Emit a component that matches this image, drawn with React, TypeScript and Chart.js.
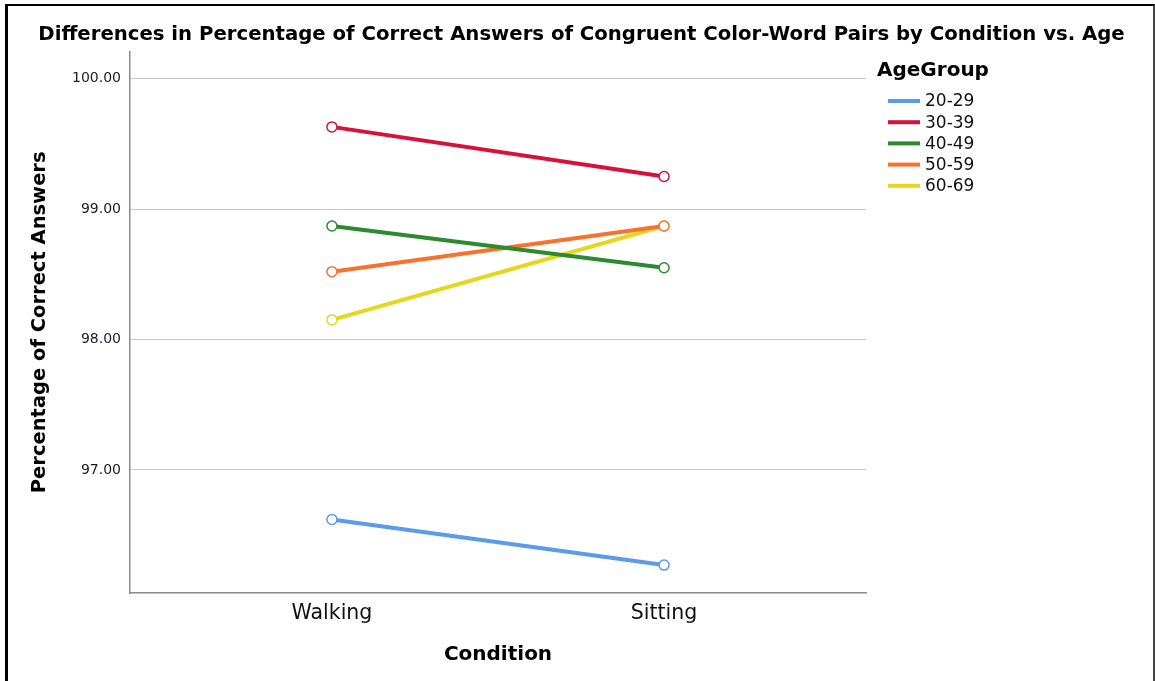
import React, { useEffect, useRef } from 'react';
import { Chart, registerables } from 'chart.js';

Chart.register(...registerables);

const chartTitle = 'Differences in Percentage of Correct Answers of Congruent Color-Word Pairs by Condition vs. Age';
const xAxisTitle = 'Condition';
const yAxisTitle = 'Percentage of Correct Answers';
const legendTitle = 'AgeGroup';

const categories = ['Walking', 'Sitting'];
const ageGroups = ['20-29', '30-39', '40-49', '50-59', '60-69'];
const values2029 = [96.62, 96.27];
const values3039 = [99.63, 99.25];
const values4049 = [98.87, 98.55];
const values5059 = [98.52, 98.87];
const values6069 = [98.15, 98.87];
const yTicks = [97, 98, 99, 100];
const seriesColors = ['#5b9be8', '#d8113c', '#2e8a2e', '#f8722f', '#e3d81c'];

const FONT = '"DejaVu Sans", sans-serif';

const legendPlugin = {
  id: 'ageLegend',
  afterDraw(chart: any) {
    const ctx = chart.ctx;
    const x0 = chart.chartArea.right + 11;
    ctx.save();
    ctx.fillStyle = '#000';
    ctx.textBaseline = 'middle';
    ctx.textAlign = 'left';
    ctx.font = `bold 20px ${FONT}`;
    ctx.fillText(legendTitle, x0, 71);
    chart.data.datasets.forEach((ds: any, i: number) => {
      const y = 101 + i * 21.2;
      ctx.strokeStyle = ds.borderColor;
      ctx.lineWidth = 4;
      ctx.beginPath();
      ctx.moveTo(x0 + 11, y);
      ctx.lineTo(x0 + 43, y);
      ctx.stroke();
      ctx.fillStyle = '#111';
      ctx.font = `17px ${FONT}`;
      ctx.fillText(ds.label, x0 + 48, y + 1);
    });
    ctx.restore();
  },
};

export default function App() {
  const ref = useRef<HTMLCanvasElement>(null);

  useEffect(() => {
    if (!ref.current) return;
    const series = [values2029, values3039, values4049, values5059, values6069];
    const chart = new Chart(ref.current, {
      type: 'line',
      data: {
        datasets: ageGroups.map((g, i) => ({
          label: g,
          data: series[i].map((v, j) => ({ x: j, y: v })),
          borderColor: seriesColors[i],
          backgroundColor: seriesColors[i],
          borderWidth: 4,
          pointRadius: 5,
          pointBorderWidth: 1.5,
          pointBackgroundColor: '#ffffff',
          pointBorderColor: seriesColors[i],
          fill: false,
        })),
      },
      options: {
        responsive: false,
        animation: false,
        layout: { padding: { left: 8, right: 0, top: 0, bottom: 0 } },
        plugins: {
          legend: { display: false },
          tooltip: { enabled: false },
          title: {
            display: true,
            text: chartTitle,
            color: '#000',
            font: { family: FONT, size: 19.7, weight: 'bold' },
            padding: { top: 23, bottom: 5 },
          },
        },
        scales: {
          x: {
            type: 'linear',
            min: -0.608,
            max: 1.608,
            afterBuildTicks: (s: any) => {
              s.ticks = categories.map((_, i) => ({ value: i }));
            },
            afterFit: (s: any) => {
              s.height = 88;
            },
            grid: { display: false, drawTicks: false },
            border: { display: true, color: '#8a8a8a', width: 1.5 },
            ticks: {
              padding: 8,
              color: '#111',
              font: { family: FONT, size: 20.5 },
              callback: (v: any) => categories[v] ?? '',
            },
            title: {
              display: true,
              text: xAxisTitle,
              color: '#000',
              font: { family: FONT, size: 20, weight: 'bold' },
              padding: { top: 0, bottom: 14 },
            },
          },
          y: {
            type: 'linear',
            min: 96.056,
            max: 100.207,
            afterBuildTicks: (s: any) => {
              s.ticks = yTicks.map((v) => ({ value: v }));
            },
            afterFit: (s: any) => {
              s.width = 122;
            },
            grid: { color: '#c8c8c8', lineWidth: 1, drawTicks: false },
            border: { display: true, color: '#8a8a8a', width: 1.5 },
            ticks: {
              padding: 9,
              color: '#1a1a2a',
              font: { family: FONT, size: 14 },
              callback: (v: any) => Number(v).toFixed(2),
            },
            title: {
              display: true,
              text: yAxisTitle,
              color: '#000',
              font: { family: FONT, size: 19.5, weight: 'bold' },
              padding: { top: 20, bottom: 0 },
            },
          },
          legendSpace: {
            type: 'linear',
            position: 'right',
            display: true,
            afterFit: (s: any) => {
              s.width = 289;
            },
            grid: { display: false, drawTicks: false },
            border: { display: false },
            ticks: { display: false },
          },
        },
      },
      plugins: [legendPlugin],
    } as any);
    return () => chart.destroy();
  }, []);

  return (
    <div style={{ position: 'fixed', left: 0, top: 0, width: 1155, height: 681, background: '#fff', overflow: 'hidden' }}>
      <canvas ref={ref} width={1155} height={681} style={{ display: 'block', position: 'absolute', left: 0, top: 0 }} />
      <div
        style={{
          position: 'absolute',
          left: 5,
          top: 4,
          width: 1150,
          height: 720,
          boxSizing: 'border-box',
          borderLeft: '3px solid #000',
          borderTop: '2px solid #000',
          borderRight: '2px solid #444',
          pointerEvents: 'none',
        }}
      />
    </div>
  );
}
